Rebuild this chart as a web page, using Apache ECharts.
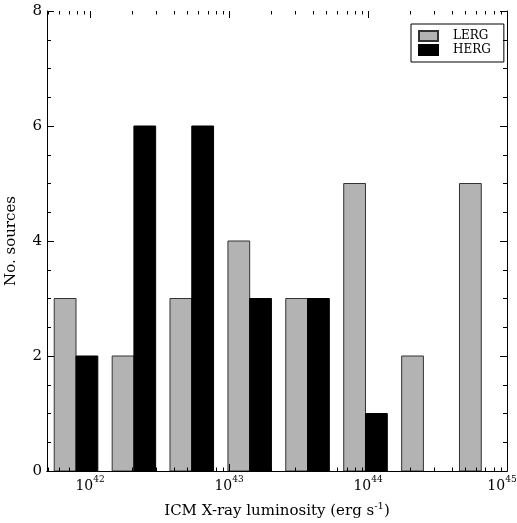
<!DOCTYPE html>
<html><head><meta charset="utf-8">
<script src="https://cdn.jsdelivr.net/npm/echarts@6/dist/echarts.min.js"></script>
<style>html,body{margin:0;padding:0;background:#fff}#c{width:517px;height:523px}</style>
</head><body><div id="c"></div>
<script>
// log10 of ICM X-ray luminosity, histogram bin edges
const binEdges = [41.742, 42.159, 42.575, 42.992, 43.408, 43.825, 44.242, 44.658, 45.075];
const lerg = [3, 2, 3, 4, 3, 5, 2, 5];
const herg = [2, 6, 6, 3, 3, 1, 0, 0];
const xTickExponents = [42, 43, 44, 45];
const xMin = 41.69, xMax = 45;
const yMin = 0, yMax = 8, yStep = 2;
const FONT = 'DejaVu Serif';
const BAR_FRAC = 0.376;

function barSeries(name, values, slot, color, border) {
  return {
    type: 'custom', name: name, z: 2,
    itemStyle: { color: color, borderColor: border, borderWidth: 1 },
    encode: { x: 0, y: 1 },
    data: values.map((v, i) => [i, v]),
    renderItem: function (params, api) {
      const i = api.value(0), v = api.value(1);
      if (!v) return null;
      const w = binEdges[i + 1] - binEdges[i];
      const x0 = binEdges[i] + w * BAR_FRAC * slot;
      const x1 = x0 + w * BAR_FRAC;
      const p0 = api.coord([x0, v]);
      const p1 = api.coord([x1, 0]);
      return { type: 'rect', shape: { x: p0[0], y: p0[1], width: p1[0] - p0[0], height: p1[1] - p0[1] },
        style: { fill: color, stroke: border, lineWidth: 1 } };
    }
  };
}

// log-axis tick positions: [position, length]
const xTicks = [];
for (let n = Math.floor(xMin); n <= xMax; n++) {
  for (let k = 1; k < 10; k++) {
    const v = n + Math.log10(k);
    if (v > xMin && v <= xMax + 1e-9) xTicks.push([v, k === 1 ? 7 : 3.5]);
  }
}

const chart = echarts.init(document.getElementById('c'));
const axisCommon = {
  axisLine: { show: true, lineStyle: { color: '#000', width: 1 } },
  splitLine: { show: false },
  z: 10
};
chart.setOption({
  animation: false,
  backgroundColor: '#fff',
  grid: { left: 47, right: 10, top: 11, bottom: 52, containLabel: false, outerBoundsMode: 'none' },
  legend: {
    data: ['LERG', 'HERG'], orient: 'vertical', left: 411, top: 24,
    padding: [6, 13, 6, 7], itemWidth: 19, itemHeight: 10, itemGap: 2, icon: 'rect',
    borderColor: '#000', borderWidth: 1, borderRadius: 0,
    textStyle: { fontFamily: FONT, fontSize: 12, lineHeight: 12, color: '#000', padding: [0, 0, 0, 10] }
  },
  xAxis: [
    Object.assign({}, axisCommon, {
      type: 'value', min: xMin, max: xMax, position: 'bottom',
      name: '{n|ICM X-ray luminosity (erg s}{s|-1}{n|)}', nameLocation: 'middle', nameGap: 30,
      nameTextStyle: { fontFamily: FONT, fontSize: 15, color: '#000',
        rich: {
          n: { fontFamily: FONT, fontSize: 15, color: '#000', lineHeight: 20 },
          s: { fontFamily: FONT, fontSize: 10, color: '#000', verticalAlign: 'top', lineHeight: 10 }
        } },
      axisTick: { show: false },
      axisLabel: {
        show: true, margin: 4, showMinLabel: false, showMaxLabel: true,
        fontFamily: FONT, color: '#000',
        formatter: function (v) {
          const e = Math.round(v);
          if (Math.abs(v - e) > 1e-6 || xTickExponents.indexOf(e) < 0) return '';
          const last = e === xTickExponents[xTickExponents.length - 1];
          return '{b|10}{s|' + e + '}' + (last ? '{pad|}' : '');
        },
        rich: {
          b: { fontFamily: FONT, fontSize: 14, color: '#000', lineHeight: 22 },
          s: { fontFamily: FONT, fontSize: 9, color: '#000', verticalAlign: 'top', lineHeight: 10 },
          pad: { width: 10, lineHeight: 22 }
        }
      }
    }),
    Object.assign({}, axisCommon, {
      type: 'value', min: xMin, max: xMax, position: 'top',
      axisTick: { show: false },
      axisLabel: { show: false }
    })
  ],
  yAxis: [
    Object.assign({}, axisCommon, {
      type: 'value', min: yMin, max: yMax, interval: yStep, position: 'left',
      name: 'No. sources', nameLocation: 'middle', nameGap: 28, nameRotate: 90,
      nameTextStyle: { fontFamily: FONT, fontSize: 15, color: '#000' },
      axisTick: { show: true, inside: true, length: 7, lineStyle: { color: '#000' } },
      minorTick: { show: true, splitNumber: 4, length: 4, lineStyle: { color: '#000' } },
      minorSplitLine: { show: false },
      axisLabel: { show: true, margin: 5, fontFamily: FONT, fontSize: 15, color: '#000' }
    }),
    Object.assign({}, axisCommon, {
      type: 'value', min: yMin, max: yMax, interval: yStep, position: 'right',
      axisTick: { show: true, inside: true, length: 7, lineStyle: { color: '#000' } },
      minorTick: { show: true, splitNumber: 4, length: 4, lineStyle: { color: '#000' } },
      minorSplitLine: { show: false },
      axisLabel: { show: false }
    })
  ],
  series: [
    barSeries('LERG', lerg, 0, '#b3b3b3', '#333333'),
    barSeries('HERG', herg, 1, '#000000', '#000000'),
    {
      type: 'custom', name: 'xTicks', silent: true, z: 20,
      encode: { x: 0 },
      data: xTicks,
      renderItem: function (params, api) {
        const x = Math.round(api.coord([api.value(0), 0])[0]) + 0.5;
        const len = api.value(1);
        const cs = params.coordSys;
        const yb = cs.y + cs.height, yt = cs.y;
        return { type: 'group', children: [
          { type: 'line', shape: { x1: x, y1: yb, x2: x, y2: yb - len }, style: { stroke: '#000', lineWidth: 1 } },
          { type: 'line', shape: { x1: x, y1: yt, x2: x, y2: yt + len }, style: { stroke: '#000', lineWidth: 1 } }
        ] };
      }
    }
  ]
});
</script></body></html>
